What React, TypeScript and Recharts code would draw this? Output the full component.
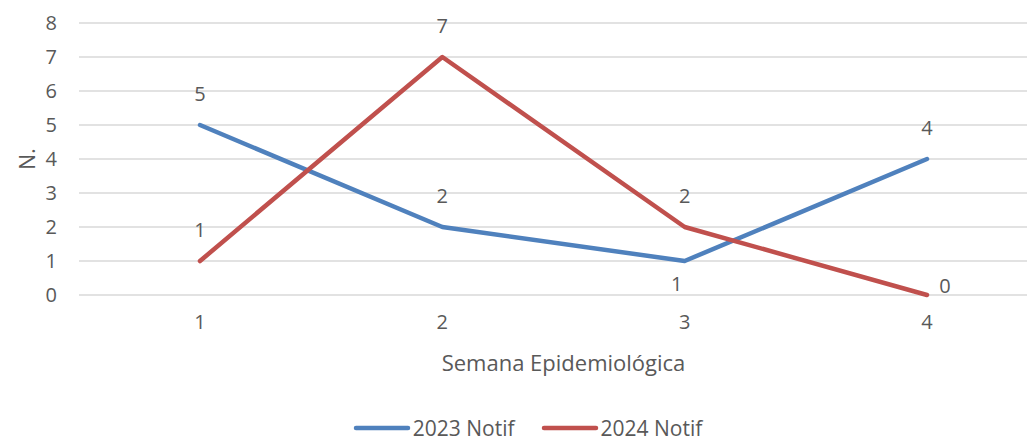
import React from "react"
import { LineChart, Line, XAxis, YAxis, CartesianGrid, LabelList, Label } from "recharts"

const weeks = ["1", "2", "3", "4"]
const notif2023 = [5, 2, 1, 4]
const notif2024 = [1, 7, 2, 0]
const yTicks = [0, 1, 2, 3, 4, 5, 6, 7, 8]

const data = weeks.map((w, i) => ({ week: w, n2023: notif2023[i], n2024: notif2024[i] }))

const textColor = "#595959"
const fontFamily = "'Open Sans', sans-serif"
const blue = "#4F81BD"
const red = "#C0504D"

// Excel places most labels above the point; a couple sit elsewhere
const makeLabel = (series: "a" | "b") => (props: any) => {
  const { x, y, value, index } = props
  let lx = x
  let ly = y - 32
  if (series === "a" && index === 2) {
    lx = x - 8
    ly = y + 22
  }
  if (series === "b" && index === 3) {
    lx = x + 18
    ly = y - 10
  }
  return (
    <text x={lx} y={ly} fill={textColor} fontSize={20} fontFamily={fontFamily} textAnchor="middle" dominantBaseline="central">
      {value}
    </text>
  )
}

function LegendRow() {
  const items = [
    { name: "2023 Notif", color: blue },
    { name: "2024 Notif", color: red },
  ]
  return (
    <div style={{ position: "absolute", top: 414, left: 0, width: 1055, display: "flex", justifyContent: "center", gap: 26, fontFamily, fontSize: 21, lineHeight: "28px", color: textColor }}>
      {items.map((it) => (
        <div key={it.name} style={{ display: "flex", alignItems: "center" }}>
          <svg width={58} height={10} style={{ marginRight: 2 }}>
            <line x1={3} y1={5} x2={55} y2={5} stroke={it.color} strokeWidth={4.5} strokeLinecap="round" />
          </svg>
          <span>{it.name}</span>
        </div>
      ))}
    </div>
  )
}

export default function App() {
  return (
    <div style={{ margin: -8, width: 1035, height: 445, overflow: "hidden", position: "relative", background: "#fff" }}>
      <LineChart width={1060} height={445} data={data} margin={{ top: 23, right: 12, bottom: 68, left: 0 }}>
        <CartesianGrid vertical={false} stroke="#d9d9d9" strokeWidth={1.5} />
        <XAxis
          dataKey="week"
          axisLine={false}
          tickLine={false}
          tickSize={0}
          tickMargin={20}
          padding={{ left: 121, right: 121 }}
          height={82}
          tick={{ fill: textColor, fontSize: 20, fontFamily }}
        >
          <Label value="Semana Epidemiológica" position="insideBottom" offset={6} fill={textColor} fontSize={22} fontFamily={fontFamily} />
        </XAxis>
        <YAxis
          domain={[0, 8]}
          ticks={yTicks}
          interval={0}
          axisLine={false}
          tickLine={false}
          tickSize={0}
          tickMargin={22}
          width={79}
          tick={{ fill: textColor, fontSize: 20, fontFamily }}
        >
          <Label value="N." angle={-90} position="insideLeft" offset={28} fill={textColor} fontSize={21} fontFamily={fontFamily} style={{ textAnchor: "middle" }} />
        </YAxis>
        <Line dataKey="n2023" stroke={blue} strokeWidth={4.5} strokeLinecap="round" strokeLinejoin="round" dot={false} isAnimationActive={false}>
          <LabelList dataKey="n2023" content={makeLabel("a")} />
        </Line>
        <Line dataKey="n2024" stroke={red} strokeWidth={4.5} strokeLinecap="round" strokeLinejoin="round" dot={false} isAnimationActive={false}>
          <LabelList dataKey="n2024" content={makeLabel("b")} />
        </Line>
      </LineChart>
      <LegendRow />
    </div>
  )
}
